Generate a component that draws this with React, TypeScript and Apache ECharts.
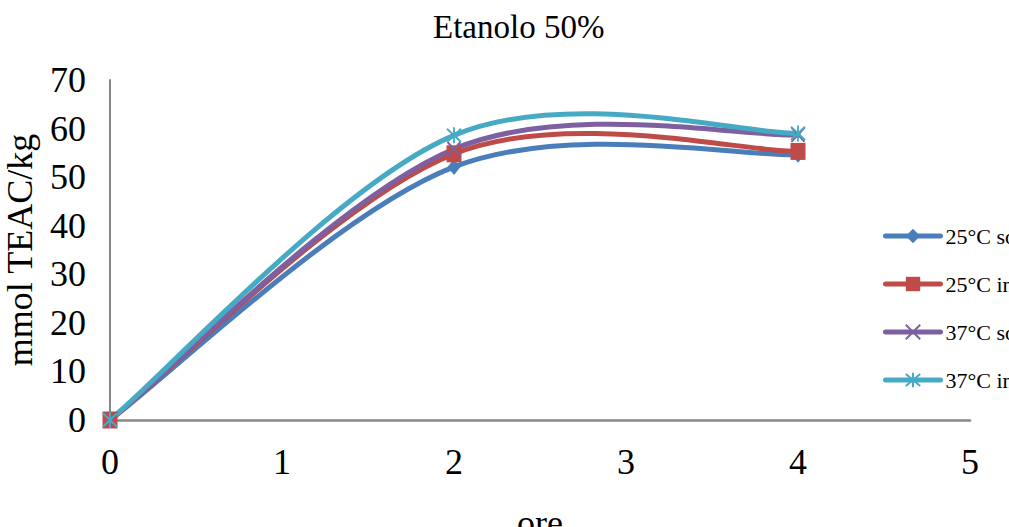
import React, { useEffect, useRef } from "react";
import * as echarts from "echarts";

const titleText = "Etanolo 50%";
const xName = "ore";
const yName = "mmol TEAC/kg";
const hours = [0, 2, 4];
const seriesNames = ["25°C sonicato", "25°C infuso", "37°C sonicato", "37°C infuso"];
const blueValues = [0, 52.1, 54.6];
const redValues = [0, 54.8, 55.3];
const purpleValues = [0, 55.8, 58.7];
const cyanValues = [0, 58.6, 59.0];
const colors = ["#4A7EBB", "#BE4B48", "#7D60A0", "#46AAC5"];
const symbols = [
  "diamond",
  "rect",
  "path://M0,0L10,10M10,0L0,10",
  "path://M0,0L10,10M10,0L0,10M5,-1L5,11",
];
const symbolSizes = [[13, 16], [15, 17], [13, 14], [14, 16]];

const FONT = '"Liberation Serif", "Times New Roman", serif';

export default function App() {
  const ref = useRef<HTMLDivElement>(null);
  useEffect(() => {
    if (!ref.current) return;
    const chart = echarts.init(ref.current, undefined, { renderer: "svg" });
    const allValues = [blueValues, redValues, purpleValues, cyanValues];

    // Excel-like smoothed curves (Catmull-Rom style Bezier), drawn per segment
    const curveSeries = allValues.map((vals, i) => ({
      name: seriesNames[i] + " curve",
      type: "custom",
      z: 2 + i,
      silent: true,
      clip: false,
      data: hours.map((h, j) => [h, vals[j]]),
      renderItem: (params: any, api: any) => {
        const k = params.dataIndex;
        const n = hours.length;
        if (k >= n - 1) return null;
        const P = (m: number) => {
          const mm = Math.max(0, Math.min(n - 1, m));
          return api.coord([hours[mm], vals[mm]]);
        };
        const p0 = P(k - 1);
        const p1 = P(k);
        const p2 = P(k + 1);
        const p3 = P(k + 2);
        const cp1 = [p1[0] + (p2[0] - p0[0]) / 6, p1[1] + (p2[1] - p0[1]) / 6];
        const cp2 = [p2[0] - (p3[0] - p1[0]) / 6, p2[1] - (p3[1] - p1[1]) / 6];
        return {
          type: "bezierCurve",
          shape: {
            x1: p1[0], y1: p1[1],
            x2: p2[0], y2: p2[1],
            cpx1: cp1[0], cpy1: cp1[1],
            cpx2: cp2[0], cpy2: cp2[1],
          },
          style: { stroke: colors[i], lineWidth: 5, fill: "none", lineCap: "round" },
        };
      },
    }));

    const markerSeries = allValues.map((vals, i) => ({
      name: seriesNames[i],
      type: "line",
      data: hours.map((h, j) => [h, vals[j]]),
      symbol: symbols[i],
      symbolSize: symbolSizes[i],
      showAllSymbol: true,
      lineStyle: { color: colors[i], width: 0, opacity: 0 },
      itemStyle: {
        color: colors[i],
        borderColor: colors[i],
        borderWidth: i >= 2 ? 2 : 0,
      },
      z: 10 + i,
    }));

    chart.setOption({
      animation: false,
      backgroundColor: "#ffffff",
      title: {
        text: titleText,
        left: 428,
        top: 5,
        textStyle: { fontFamily: FONT, fontSize: 33, fontWeight: "normal", color: "#000" },
      },
      legend: {
        orient: "vertical",
        left: 878,
        top: 220,
        itemWidth: 55,
        itemHeight: 18,
        itemGap: 26,
        textStyle: { fontFamily: FONT, fontSize: 22, color: "#000", lineHeight: 22 },
        data: seriesNames.map((nm, i) => ({
          name: nm,
          lineStyle: { color: colors[i], width: 5, opacity: 1, cap: "round" },
        })),
      },
      grid: { left: 110, top: 80, width: 860, height: 340, containLabel: false, outerBoundsMode: "none" },
      xAxis: {
        type: "value",
        min: 0,
        max: 5,
        interval: 1,
        name: xName,
        nameLocation: "middle",
        nameGap: 85,
        nameTextStyle: { fontFamily: FONT, fontSize: 36, color: "#000" },
        axisLine: { show: true, lineStyle: { color: "#888", width: 2.5 } },
        axisTick: { show: false },
        splitLine: { show: false },
        axisLabel: { fontFamily: FONT, fontSize: 36, color: "#000", margin: 24 },
      },
      yAxis: {
        type: "value",
        min: 0,
        max: 70,
        interval: 10,
        name: yName,
        nameLocation: "middle",
        nameGap: 72,
        nameTextStyle: { fontFamily: FONT, fontSize: 36, color: "#000" },
        axisLine: { show: true, lineStyle: { color: "#888", width: 2 } },
        axisTick: { show: false },
        splitLine: { show: false },
        axisLabel: { fontFamily: FONT, fontSize: 36, color: "#000", margin: 24 },
      },
      series: [...curveSeries, ...markerSeries],
    });
    return () => chart.dispose();
  }, []);
  return (
    <div
      ref={ref}
      style={{ position: "fixed", left: 0, top: 0, width: 1009, height: 527, overflow: "hidden" }}
    />
  );
}
